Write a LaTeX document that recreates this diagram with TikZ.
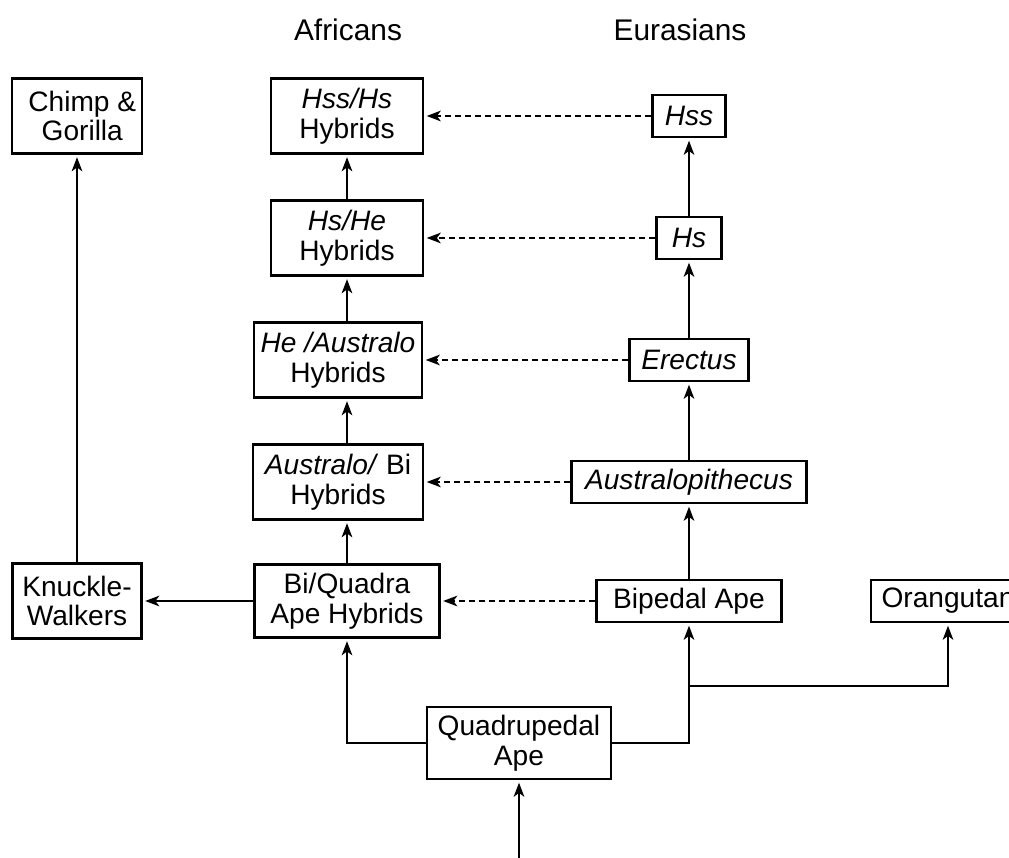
\documentclass[tikz,border=0pt]{standalone}
\usepackage{fontspec}
\setmainfont{Liberation Sans}
\usepackage{tikz}
\usetikzlibrary{arrows.meta}
\newcommand{\boxfont}{\fontsize{16pt}{17pt}\selectfont}
\newcommand{\headfont}{\fontsize{17pt}{18pt}\selectfont}

\begin{document}
\begin{tikzpicture}[x=0.02cm, y=-0.02cm, >={Stealth[length=8pt, width=6pt, inset=2.2pt]},
    box/.style={draw, line width=1.2pt, align=center, font=\boxfont, inner sep=1pt},
    tall/.style={box, minimum height=1.5cm},
    flat/.style={box, minimum height=0.84cm},
    link/.style={->, line width=1.2pt, shorten >=1.5pt},
    dlink/.style={link, dash pattern=on 3.4pt off 2.3pt}]
    \useasboundingbox (0,0) rectangle (1009,858);
    \clip (0,0) rectangle (1009,858);

    % column headers
    \node[font=\headfont] (afr) at (348,30) {Africans};
    \node[font=\headfont] (eur) at (680,30) {Eurasians};

    % left side
    \node[tall, minimum width=2.6cm]  (chimp) at (77,116)  {\hspace*{6pt}Chimp \&\\\hspace*{6pt}Gorilla};
    \node[tall, minimum width=2.58cm] (kw)    at (77,601)  {Knuckle-\\Walkers};

    % African hybrids
    \node[tall, minimum width=3.04cm] (hsshs) at (347,116) {\textit{Hss/Hs}\\Hybrids};
    \node[tall, minimum width=3.04cm] (hshe)  at (347,238) {\textit{Hs/He}\\Hybrids};
    \node[tall, minimum width=3.36cm] (hehyb) at (338,360) {\textit{He /Australo}\\Hybrids};
    \node[tall, minimum width=3.4cm]  (aubi)  at (338,482) {\textit{Australo/} Bi\\Hybrids};
    \node[tall, minimum width=3.7cm, minimum height=1.46cm] (biq) at (347,601) {Bi/Quadra\\Ape Hybrids};

    % Eurasians
    \node[flat, minimum width=1.46cm] (hss)     at (689,116) {\textit{Hss}};
    \node[flat, minimum width=1.3cm]  (hs)      at (689,238) {\textit{Hs}};
    \node[flat, minimum width=2.38cm] (erectus) at (689,360) {\textit{Erectus}};
    \node[flat, minimum width=4.7cm]  (austr)   at (689,482) {\textit{Australopithecus}};
    \node[flat, minimum width=3.7cm]  (biped)   at (689,601) {Bipedal Ape};
    \node[flat, minimum width=3.08cm] (orang)   at (948,601) {Orangutan};

    % root
    \node[tall, minimum width=3.68cm, minimum height=1.44cm] (quad) at (519,743) {Quadrupedal\\Ape};
    \coordinate (root) at (519,858);
    \coordinate (fork) at (689,686);

    \draw[link] (root) -- (quad);
    \draw[link] (quad.west) -| (biq);
    \draw[link] (quad.east) -| (biped);
    \draw[link] (fork) -| (orang);

    \draw[link] (biq) -- (kw);
    \draw[link] (kw) -- (chimp);

    \draw[link] (biq) -- (biq |- aubi.south);
    \draw[link] (aubi.north -| biq) -- (hehyb.south -| biq);
    \draw[link] (hehyb.north -| biq) -- (hshe);
    \draw[link] (hshe) -- (hsshs);

    \draw[link] (biped) -- (austr);
    \draw[link] (austr) -- (erectus);
    \draw[link] (erectus) -- (hs);
    \draw[link] (hs) -- (hss);

    \draw[dlink] (biped) -- (biq);
    \draw[dlink] (austr) -- (aubi);
    \draw[dlink] (erectus) -- (hehyb);
    \draw[dlink] (hs) -- (hshe);
    \draw[dlink] (hss) -- (hsshs);
\end{tikzpicture}
\end{document}
